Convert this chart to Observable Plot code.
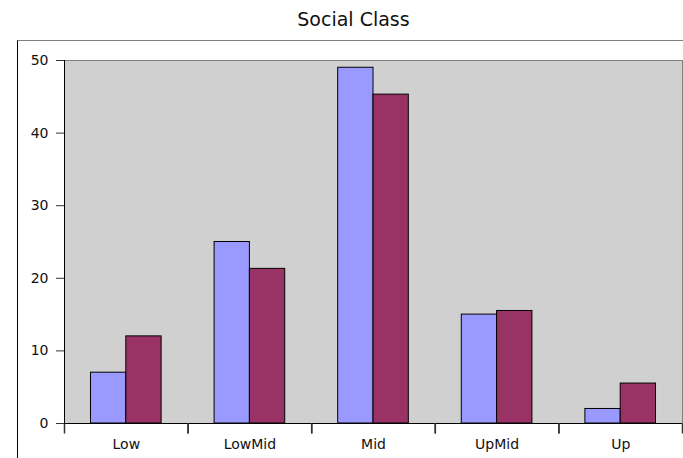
<!DOCTYPE html>
<html>
<head>
<meta charset="utf-8">
<script src="https://cdn.jsdelivr.net/npm/d3@7"></script>
<script src="https://cdn.jsdelivr.net/npm/@observablehq/plot@0.6"></script>
<style>
  body { margin: 0; background: white; }
  #wrap { position: relative; width: 683px; height: 458px; overflow: hidden; background: white; font-family: "DejaVu Sans", sans-serif; }
  #title { position: absolute; left: 0; top: 8px; width: 707px; text-align: center; font-size: 19px; color: #111; }
  #box { position: absolute; left: 17px; top: 40px; width: 720px; height: 500px; border-left: 1px solid #000; border-top: 1px solid #808080; }
  #chart { position: absolute; left: 0; top: 0; }
  #chart svg text { font-size: 14px !important; font-family: "DejaVu Sans", sans-serif !important; fill: #111; }
</style>
</head>
<body>
<div id="wrap">
  <div id="box"></div>
  <div id="title">Social Class</div>
  <div id="chart"></div>
</div>
<script>
const categories = ["Low", "LowMid", "Mid", "UpMid", "Up"];
const seriesNames = ["Series 1", "Series 2"];
const series1 = [7, 25, 49, 15, 2];
const series2 = [12, 21.3, 45.3, 15.5, 5.5];
const yTicks = [0, 10, 20, 30, 40, 50];

const data = categories.flatMap((c, i) => [
  {cat: c, s: seriesNames[0], v: series1[i]},
  {cat: c, s: seriesNames[1], v: series2[i]}
]);

const tickSymbol = {
  draw(context) {
    context.moveTo(0, 0);
    context.lineTo(0, 10);
  }
};

const chart = Plot.plot({
  width: 683,
  height: 458,
  marginTop: 60,
  marginBottom: 35,
  marginLeft: 64,
  marginRight: 1,
  style: {fontFamily: "DejaVu Sans, sans-serif", fontSize: "14px", background: "transparent", color: "black", overflow: "visible"},
  fx: {domain: categories, padding: 0, round: false, label: null},
  x: {domain: seriesNames, paddingInner: 0, paddingOuter: 0.75, round: false, axis: null},
  y: {domain: [0, 50], axis: null},
  color: {domain: seriesNames, range: ["#9999ff", "#993366"]},
  marks: [
    Plot.frame({facet: "super", fill: "#d0d0d0", stroke: "#808080"}),
    Plot.barY(data, {fx: "cat", x: "s", y: "v", fill: "s", stroke: "black", strokeWidth: 1}),
    Plot.ruleY([0], {stroke: "black"}),
    Plot.frame({facet: "super", anchor: "left", stroke: "black"}),
    Plot.axisY({ticks: yTicks, tickSize: 8, tickPadding: 8, fontSize: 14, label: null, stroke: "#333"}),
    Plot.axisFx({anchor: "bottom", tickSize: 0, tickPadding: 16, fontSize: 14, label: null}),
    Plot.dot(categories, {fx: d => d, frameAnchor: "bottom-left", symbol: tickSymbol, r: 3, fill: "none", stroke: "#333"}),
    Plot.dot(categories, {fx: d => d, frameAnchor: "bottom-right", symbol: tickSymbol, r: 3, fill: "none", stroke: "#333"})
  ]
});
document.getElementById("chart").appendChild(chart);
</script>
</body>
</html>
